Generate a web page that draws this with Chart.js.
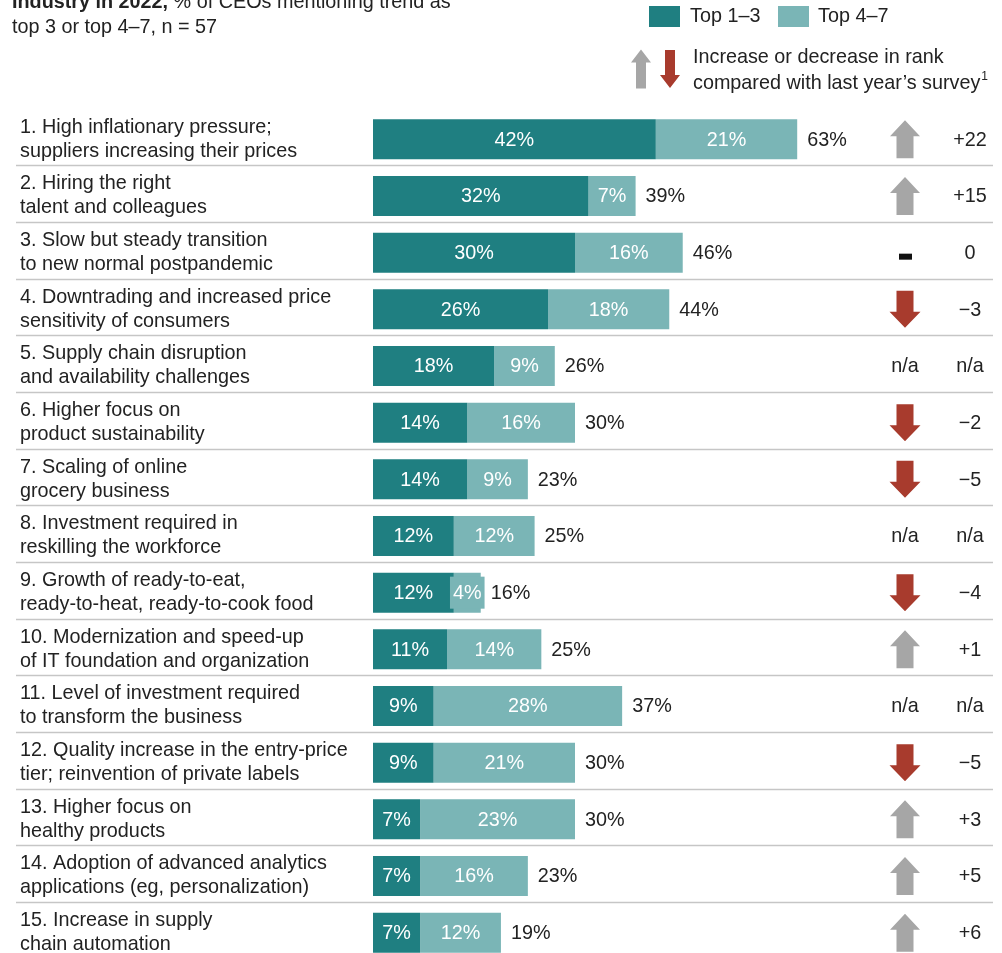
<!DOCTYPE html>
<html>
<head>
<meta charset="utf-8">
<script src="https://cdn.jsdelivr.net/npm/chart.js@4"></script>
<style>
  html, body { margin: 0; padding: 0; background: #fff; overflow: hidden; }
  #wrap { width: 1002px; height: 961px; }
</style>
</head>
<body>
<div id="wrap"><canvas id="trends" width="1002" height="961"></canvas></div>
<script>
// ---- data ----
const categories = [
  ['1. High inflationary pressure;', 'suppliers increasing their prices'],
  ['2. Hiring the right', 'talent and colleagues'],
  ['3. Slow but steady transition', 'to new normal postpandemic'],
  ['4. Downtrading and increased price', 'sensitivity of consumers'],
  ['5. Supply chain disruption', 'and availability challenges'],
  ['6. Higher focus on', 'product sustainability'],
  ['7. Scaling of online', 'grocery business'],
  ['8. Investment required in', 'reskilling the workforce'],
  ['9. Growth of ready-to-eat,', 'ready-to-heat, ready-to-cook food'],
  ['10. Modernization and speed-up', 'of IT foundation and organization'],
  ['11. Level of investment required', 'to transform the business'],
  ['12. Quality increase in the entry-price', 'tier; reinvention of private labels'],
  ['13. Higher focus on', 'healthy products'],
  ['14. Adoption of advanced analytics', 'applications (eg, personalization)'],
  ['15. Increase in supply', 'chain automation']
];
const top13 = [42, 32, 30, 26, 18, 14, 14, 12, 12, 11, 9, 9, 7, 7, 7];
const top47 = [21, 7, 16, 18, 9, 16, 9, 12, 4, 14, 28, 21, 23, 16, 12];
const totals = [63, 39, 46, 44, 26, 30, 23, 25, 16, 25, 37, 30, 30, 23, 19];
const rankDir = ['up', 'up', 'same', 'down', 'na', 'down', 'down', 'na', 'down', 'up', 'na', 'down', 'up', 'up', 'up'];
const rankChange = ['+22', '+15', '0', '\u22123', 'n/a', '\u22122', '\u22125', 'n/a', '\u22124', '+1', 'n/a', '\u22125', '+3', '+5', '+6'];

const DARK = '#1f7f81';
const LIGHT = '#7ab5b6';
const GREY = '#a6a6a6';
const RED = '#a83b2d';
const INK = '#222222';
const FONT = '19.8px "Liberation Sans", Arial, sans-serif';
const BOLD = 'bold 19.8px "Liberation Sans", Arial, sans-serif';

function upArrow(ctx, cx, cy, w, h, shaft, head, color) {
  const top = cy - h / 2;
  ctx.fillStyle = color;
  ctx.beginPath();
  ctx.moveTo(cx, top);
  ctx.lineTo(cx + w / 2, top + head);
  ctx.lineTo(cx + shaft / 2, top + head);
  ctx.lineTo(cx + shaft / 2, top + h);
  ctx.lineTo(cx - shaft / 2, top + h);
  ctx.lineTo(cx - shaft / 2, top + head);
  ctx.lineTo(cx - w / 2, top + head);
  ctx.closePath();
  ctx.fill();
}

function downArrow(ctx, cx, cy, w, h, shaft, head, color) {
  const bot = cy + h / 2;
  ctx.fillStyle = color;
  ctx.beginPath();
  ctx.moveTo(cx, bot);
  ctx.lineTo(cx + w / 2, bot - head);
  ctx.lineTo(cx + shaft / 2, bot - head);
  ctx.lineTo(cx + shaft / 2, bot - h);
  ctx.lineTo(cx - shaft / 2, bot - h);
  ctx.lineTo(cx - shaft / 2, bot - head);
  ctx.lineTo(cx - w / 2, bot - head);
  ctx.closePath();
  ctx.fill();
}

// labels, totals, arrows, separators, title and legend
const decorations = {
  id: 'decorations',
  beforeDatasetsDraw(chart) {
    const ctx = chart.ctx;
    const y = chart.scales.y;
    const pitch = y.getPixelForValue(1) - y.getPixelForValue(0);
    ctx.save();
    ctx.strokeStyle = '#c6c6c6';
    ctx.lineWidth = 1.5;
    for (let i = 0; i < categories.length; i++) {
      const ly = Math.round(y.getPixelForValue(i) + pitch * 0.46) + 0.5;
      ctx.beginPath();
      ctx.moveTo(16, ly);
      ctx.lineTo(993, ly);
      ctx.stroke();
    }
    ctx.restore();
  },
  afterDatasetsDraw(chart) {
    const ctx = chart.ctx;
    const y = chart.scales.y;
    ctx.save();
    ctx.font = FONT;

    // title (cut off at the top like the original)
    ctx.fillStyle = INK;
    ctx.textAlign = 'left';
    ctx.textBaseline = 'alphabetic';
    ctx.font = BOLD;
    const lead = 'Industry in 2022,';
    ctx.fillText(lead, 12, 8);
    const lw = ctx.measureText(lead + ' ').width;
    ctx.font = FONT;
    ctx.fillText('% of CEOs mentioning trend as', 12 + lw, 8);
    ctx.fillText('top 3 or top 4\u20137, n = 57', 12, 33);

    // legend
    ctx.textBaseline = 'middle';
    ctx.fillStyle = DARK;
    ctx.fillRect(649, 6, 31, 21);
    ctx.fillStyle = LIGHT;
    ctx.fillRect(778, 6, 31, 21);
    ctx.fillStyle = INK;
    ctx.fillText('Top 1\u20133', 690, 17);
    ctx.fillText('Top 4\u20137', 818, 17);
    upArrow(ctx, 641, 69, 20, 39, 10, 13, GREY);
    downArrow(ctx, 670, 69, 20, 38, 10, 13, RED);
    ctx.fillStyle = INK;
    ctx.fillText('Increase or decrease in rank', 693, 58);
    const l2 = 'compared with last year\u2019s survey';
    ctx.fillText(l2, 693, 84);
    const w2 = ctx.measureText(l2).width;
    ctx.font = '12px "Liberation Sans", Arial, sans-serif';
    ctx.fillText('1', 693 + w2 + 1, 77);
    ctx.font = FONT;

    const m0 = chart.getDatasetMeta(0);
    const m1 = chart.getDatasetMeta(1);

    for (let i = 0; i < categories.length; i++) {
      const cy = y.getPixelForValue(i);

      // category label
      ctx.fillStyle = INK;
      ctx.textAlign = 'left';
      ctx.fillText(categories[i][0], 20, cy - 12);
      ctx.fillText(categories[i][1], 20, cy + 12);

      // values inside the segments
      ctx.textAlign = 'center';
      [[m0, top13, DARK], [m1, top47, LIGHT]].forEach(([meta, vals, col]) => {
        const bar = meta.data[i];
        const left = Math.min(bar.x, bar.base);
        const right = Math.max(bar.x, bar.base);
        const mid = (left + right) / 2;
        const txt = vals[i] + '%';
        const tw = ctx.measureText(txt).width;
        if (tw + 6 > right - left) {
          ctx.fillStyle = col;
          ctx.fillRect(mid - tw / 2 - 3, cy - 16, tw + 6, 32);
        }
        ctx.fillStyle = '#ffffff';
        ctx.fillText(txt, mid, cy + 1);
      });

      // total after the bar
      const end = m1.data[i].x;
      ctx.fillStyle = INK;
      ctx.textAlign = 'left';
      ctx.fillText(totals[i] + '%', end + 10, cy + 1);

      // rank change marker
      const ax = 905;
      if (rankDir[i] === 'up') {
        upArrow(ctx, ax, cy, 30, 38, 17, 16, GREY);
      } else if (rankDir[i] === 'down') {
        downArrow(ctx, ax, cy, 31, 37, 17, 16, RED);
      } else if (rankDir[i] === 'same') {
        ctx.fillStyle = '#111';
        ctx.fillRect(ax - 6, cy + 1, 13, 6);
      } else {
        ctx.fillStyle = INK;
        ctx.textAlign = 'center';
        ctx.fillText('n/a', ax, cy + 1);
      }
      ctx.fillStyle = INK;
      ctx.textAlign = 'center';
      ctx.fillText(rankChange[i], 970, cy + 1);
    }
    ctx.restore();
  }
};

new Chart(document.getElementById('trends').getContext('2d'), {
  type: 'bar',
  data: {
    labels: categories,
    datasets: [
      { label: 'Top 1\u20133', data: top13, backgroundColor: DARK, borderWidth: 0 },
      { label: 'Top 4\u20137', data: top47, backgroundColor: LIGHT, borderWidth: 0 }
    ]
  },
  options: {
    indexAxis: 'y',
    responsive: false,
    animation: false,
    events: [],
    barPercentage: 0.706,
    categoryPercentage: 1,
    layout: { padding: { left: 373, right: 23, top: 111, bottom: 0 } },
    scales: {
      x: { stacked: true, min: 0, max: 90, display: false },
      y: { stacked: true, display: false }
    },
    plugins: {
      legend: { display: false },
      tooltip: { enabled: false }
    }
  },
  plugins: [decorations]
});
</script>
</body>
</html>
